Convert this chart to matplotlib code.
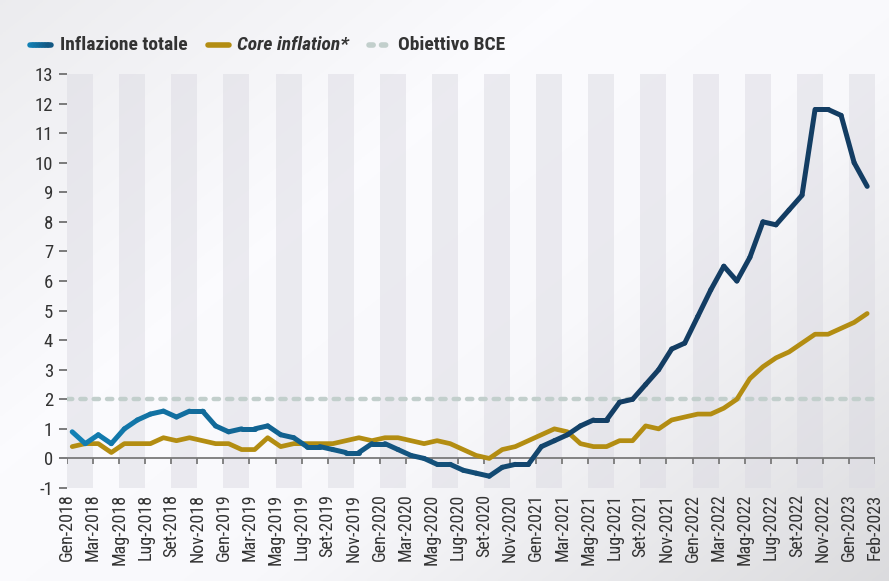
import numpy as np
import matplotlib
matplotlib.use("Agg")
import matplotlib.pyplot as plt
from matplotlib.collections import LineCollection
from matplotlib.colors import to_rgb
from matplotlib.lines import Line2D

# monthly data Gen-2018 .. Feb-2023
inflazione_totale = [0.9, 0.5, 0.8, 0.5, 1.0, 1.3, 1.5, 1.6, 1.4, 1.6, 1.6, 1.1,
                     0.9, 1.0, 1.0, 1.1, 0.8, 0.7, 0.4, 0.4, 0.3, 0.2, 0.2, 0.5,
                     0.5, 0.3, 0.1, 0.0, -0.2, -0.2, -0.4, -0.5, -0.6, -0.3, -0.2, -0.2,
                     0.4, 0.6, 0.8, 1.1, 1.3, 1.3, 1.9, 2.0, 2.5, 3.0, 3.7, 3.9,
                     4.8, 5.7, 6.5, 6.0, 6.8, 8.0, 7.9, 8.4, 8.9, 11.8, 11.8, 11.6,
                     10.0, 9.2]
core_inflation = [0.4, 0.5, 0.5, 0.2, 0.5, 0.5, 0.5, 0.7, 0.6, 0.7, 0.6, 0.5,
                  0.5, 0.3, 0.3, 0.7, 0.4, 0.5, 0.5, 0.5, 0.5, 0.6, 0.7, 0.6,
                  0.7, 0.7, 0.6, 0.5, 0.6, 0.5, 0.3, 0.1, 0.0, 0.3, 0.4, 0.6,
                  0.8, 1.0, 0.9, 0.5, 0.4, 0.4, 0.6, 0.6, 1.1, 1.0, 1.3, 1.4,
                  1.5, 1.5, 1.7, 2.0, 2.7, 3.1, 3.4, 3.6, 3.9, 4.2, 4.2, 4.4,
                  4.6, 4.9]
obiettivo_bce = 2.0

mesi = ['Gen', 'Feb', 'Mar', 'Apr', 'Mag', 'Giu', 'Lug', 'Ago', 'Set', 'Ott', 'Nov', 'Dic']
anni = [2018, 2019, 2020, 2021, 2022, 2023]
etichette = [f"{m}-{a}" for a in anni for m in mesi][:len(inflazione_totale)]

# colours
c_start = np.array(to_rgb('#1280b4'))
c_end = np.array(to_rgb('#133d63'))
c_core = '#b38d12'
c_bce = '#c2cfcc'
c_text = '#333333'

font_cond = ['Roboto Condensed', 'Liberation Sans Narrow', 'Roboto', 'DejaVu Sans']
plt.rcParams['font.family'] = font_cond
plt.rcParams['lines.scale_dashes'] = False
plt.rcParams['axes.unicode_minus'] = False

fig = plt.figure(figsize=(8.89, 5.81), dpi=100)

# background gradient over whole figure
bg = fig.add_axes([0, 0, 1, 1], zorder=-10)
yy, xx = np.mgrid[0:1:200j, 0:1:300j]
d = 0.55 * xx + 0.45 * yy          # 0 top-left .. 1 bottom-right
shade = np.interp(d, [0.0, 0.35, 0.6, 1.0], [0.925, 0.985, 0.975, 0.86])
img = np.dstack([shade, shade, shade * 1.012])
img = np.clip(img, 0, 1)
bg.imshow(img, aspect='auto', extent=[0, 1, 0, 1], origin='upper')
bg.axis('off')

ax = fig.add_axes([67 / 889, 93 / 581, 808 / 889, 414 / 581])
ax.patch.set_alpha(0)

n = len(inflazione_totale)
x = np.arange(n) + 0.4

# alternating grey bands, two months wide
for b in range(0, 62, 4):
    ax.axvspan(b, b + 2, color='#dcdbe3', alpha=0.5, lw=0, zorder=0)

ax.axhline(obiettivo_bce, color=c_bce, lw=3.2, dashes=(3.8, 5.8),
           dash_capstyle='round', zorder=1)
ax.axhline(0, color='#7a7a7a', lw=1.3, zorder=1)

# tick positions every two months + last month
tick_pos = list(range(0, n, 2)) + [n]
tick_lab = [etichette[i] for i in range(0, n, 2)] + [etichette[-1]]
ax.vlines(tick_pos, -0.2, 0, color='#7a7a7a', lw=1.3, zorder=1)

ax.plot(x, core_inflation, color=c_core, lw=3.4, solid_joinstyle='round',
        solid_capstyle='round', zorder=3)

pts = np.column_stack([x, inflazione_totale])
segs = np.stack([pts[:-1], pts[1:]], axis=1)
t = np.clip(np.arange(n - 1) / 42.0, 0, 1) ** 0.8
cols = c_start[None, :] * (1 - t[:, None]) + c_end[None, :] * t[:, None]
lc = LineCollection(segs, colors=cols, linewidths=3.6, capstyle='round',
                    joinstyle='round', zorder=4)
ax.add_collection(lc)

ax.set_xlim(0, 62)
ax.set_ylim(-1, 13)
ax.set_yticks(range(-1, 14))
ax.set_xticks(tick_pos)
ax.set_xticklabels(tick_lab, rotation=90, fontsize=13, color=c_text)
ax.tick_params(axis='x', length=0, pad=4)
ax.tick_params(axis='y', length=6, width=1.2, color='#666666', pad=4,
               labelsize=13.5, labelcolor=c_text)
for s in ax.spines.values():
    s.set_visible(False)

# legend drawn in figure coordinates
ly = 1 - 45 / 581
def fx(px):
    return px / 889

sw = np.linspace(fx(30), fx(51), 8)
lsegs = [[(sw[i], ly), (sw[i + 1], ly)] for i in range(len(sw) - 1)]
tl = np.linspace(0, 0.6, len(lsegs))
lcols = c_start[None, :] * (1 - tl[:, None]) + c_end[None, :] * tl[:, None]
fig.add_artist(LineCollection(lsegs, colors=lcols, linewidths=4, capstyle='round',
                              transform=fig.transFigure))
fig.text(fx(60), ly, 'Inflazione totale', fontsize=14, fontweight='bold',
         color=c_text, va='center')
fig.add_artist(Line2D([fx(208), fx(229)], [ly, ly], color=c_core, lw=4,
                      solid_capstyle='round', transform=fig.transFigure))
fig.text(fx(237), ly, 'Core inflation*', fontsize=14, fontweight='bold',
         fontstyle='italic', color=c_text, va='center')
fig.add_artist(Line2D([fx(369), fx(389)], [ly, ly], color=c_bce, lw=4,
                      dashes=(3.0, 6.0), dash_capstyle='round', transform=fig.transFigure))
fig.text(fx(398), ly, 'Obiettivo BCE', fontsize=14, fontweight='bold',
         color=c_text, va='center')

fig.savefig('out.png', dpi=100)
